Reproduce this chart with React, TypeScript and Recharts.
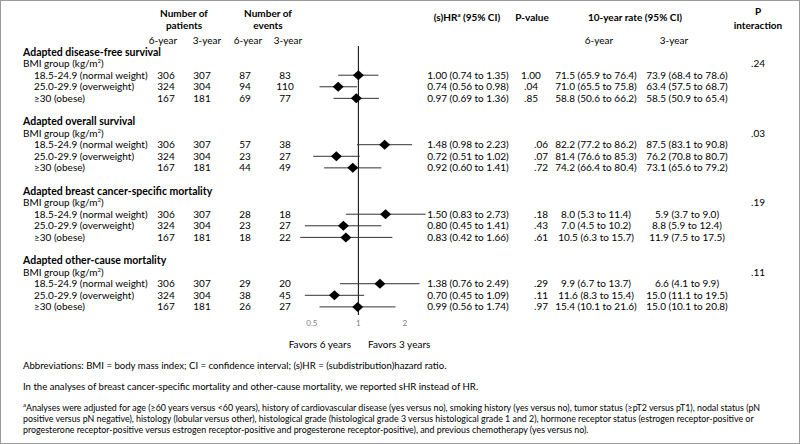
import React from 'react';
import { ScatterChart, Scatter, XAxis, YAxis, ErrorBar, ReferenceLine } from 'recharts';

const outcomes = [
  'Adapted disease-free survival',
  'Adapted overall survival',
  'Adapted breast cancer-specific mortality',
  'Adapted other-cause mortality',
];
const bmiGroups = ['18.5-24.9 (normal weight)', '25.0-29.9 (overweight)', '≥30 (obese)'];
const patients6 = [306, 324, 167];
const patients3 = [307, 304, 181];
const events6 = [[87, 94, 69], [57, 23, 44], [28, 23, 18], [29, 38, 26]];
const events3 = [[83, 110, 77], [38, 27, 49], [18, 27, 22], [20, 45, 27]];
const hr = [[1.0, 0.74, 0.97], [1.48, 0.72, 0.92], [1.5, 0.8, 0.83], [1.38, 0.7, 0.99]];
const hrLow = [[0.74, 0.56, 0.69], [0.98, 0.51, 0.6], [0.83, 0.45, 0.42], [0.76, 0.45, 0.56]];
const hrHigh = [[1.35, 0.98, 1.36], [2.23, 1.02, 1.41], [2.73, 1.41, 1.66], [2.49, 1.09, 1.74]];
const pValues = [['1.00', '.04', '.85'], ['.06', '.07', '.72'], ['.18', '.43', '.61'], ['.29', '.11', '.97']];
const rate6 = [
  ['71.5 (65.9 to 76.4)', '71.0 (65.5 to 75.8)', '58.8 (50.6 to 66.2)'],
  ['82.2 (77.2 to 86.2)', '81.4 (76.6 to 85.3)', '74.2 (66.4 to 80.4)'],
  ['8.0 (5.3 to 11.4)', '7.0 (4.5 to 10.2)', '10.5 (6.3 to 15.7)'],
  ['9.9 (6.7 to 13.7)', '11.6 (8.3 to 15.4)', '15.4 (10.1 to 21.6)'],
];
const rate3 = [
  ['73.9 (68.4 to 78.6)', '63.4 (57.5 to 68.7)', '58.5 (50.9 to 65.4)'],
  ['87.5 (83.1 to 90.8)', '76.2 (70.8 to 80.7)', '73.1 (65.6 to 79.2)'],
  ['5.9 (3.7 to 9.0)', '8.8 (5.9 to 12.4)', '11.9 (7.5 to 17.5)'],
  ['6.6 (4.1 to 9.9)', '15.0 (11.1 to 19.5)', '15.0 (10.1 to 20.8)'],
];
const pInteraction = ['.24', '.03', '.19', '.11'];
const hrTicks = [0.5, 1, 2];

const footLines = [
  'Analyses were adjusted for age (≥60 years versus <60 years), history of cardiovascular disease (yes versus no), smoking history (yes versus no), tumor status (≥pT2 versus pT1), nodal status (pN',
  'positive versus pN negative), histology (lobular versus other), histological grade (histological grade 3 versus histological grade 1 and 2), hormone receptor status (estrogen receptor-positive or',
  'progesterone receptor-positive versus estrogen receptor-positive and progesterone receptor-positive), and previous chemotherapy (yes versus no).',
];

// one row of the table per index: title, BMI group, 3 groups, blank
const rowY = (i: number) => 51 + 11.59 * i;

const points = outcomes.flatMap((_, b) =>
  bmiGroups.map((_, k) => ({
    row: b * 6 + 2 + k,
    hr: hr[b][k],
    err: [hr[b][k] - hrLow[b][k], hrHigh[b][k] - hr[b][k]],
  }))
);

const FONT = 'Lato, "Liberation Sans", sans-serif';
const supStyle: React.CSSProperties = { fontSize: 6, verticalAlign: 'top', lineHeight: '8px', position: 'relative', top: -1 };

const T = ({ x, y, a = 'left', b = false, s = 10, c = '#000', children }: any) => (
  <div
    style={{
      position: 'absolute',
      left: x,
      top: y - 5.5,
      height: 11,
      lineHeight: '11px',
      fontSize: s,
      fontWeight: b ? 700 : 400,
      color: c,
      whiteSpace: 'nowrap',
      transform: a === 'center' ? 'translateX(-50%)' : a === 'right' ? 'translateX(-100%)' : undefined,
    }}
  >
    {children}
  </div>
);

const Diamond = (p: any) => {
  const { cx, cy } = p;
  return <polygon points={`${cx},${cy - 5} ${cx + 5.5},${cy} ${cx},${cy + 5} ${cx - 5.5},${cy}`} fill="#000" />;
};

const fmt = (v: number) => v.toFixed(2);

export default function App() {
  return (
    <div
      style={{
        position: 'absolute',
        left: 0,
        top: 0,
        width: 800,
        height: 444,
        boxSizing: 'border-box',
        border: '1px solid #9a9a9a',
        background: '#fff',
        fontFamily: FONT,
        overflow: 'hidden',
      }}
    >
      {/* column headers */}
      <T x={183} y={12} a="center" b>Number of</T>
      <T x={183} y={24} a="center" b>patients</T>
      <T x={267} y={12} a="center" b>Number of</T>
      <T x={267} y={24} a="center" b>events</T>
      <T x={162} y={39} a="center">6-year</T>
      <T x={206} y={39} a="center">3-year</T>
      <T x={247} y={39} a="center">6-year</T>
      <T x={287} y={39} a="center">3-year</T>
      <T x={466} y={16} a="center" b>
        (s)HR<span style={supStyle}>a</span> (95% CI)
      </T>
      <T x={531} y={16} a="center" b>P-value</T>
      <T x={634} y={16} a="center" b>10-year rate (95% CI)</T>
      <T x={757} y={10} a="center" b>P</T>
      <T x={757} y={24} a="center" b>interaction</T>
      <T x={598} y={39} a="center">6-year</T>
      <T x={673} y={39} a="center">3-year</T>

      {outcomes.map((o, b) => (
        <React.Fragment key={o}>
          <T x={22} y={rowY(b * 6)} b s={10.5}>{o}</T>
          <T x={22} y={rowY(b * 6 + 1)}>
            BMI group (kg/m<span style={supStyle}>2</span>)
          </T>
          <T x={757} y={rowY(b * 6 + 1)} a="center">{pInteraction[b]}</T>
          {bmiGroups.map((g, k) => {
            const y = rowY(b * 6 + 2 + k);
            return (
              <React.Fragment key={g}>
                <T x={33} y={y}>{g}</T>
                <T x={165} y={y} a="center">{patients6[k]}</T>
                <T x={201} y={y} a="center">{patients3[k]}</T>
                <T x={244} y={y} a="center">{events6[b][k]}</T>
                <T x={284} y={y} a="center">{events3[b][k]}</T>
                <T x={467} y={y} a="center">
                  {`${fmt(hr[b][k])} (${fmt(hrLow[b][k])} to ${fmt(hrHigh[b][k])})`}
                </T>
                <T x={b === 0 ? 530 : 540} y={y} a="center">{pValues[b][k]}</T>
                <T x={595} y={y} a="center">{rate6[b][k]}</T>
                <T x={686} y={y} a="center">{rate3[b][k]}</T>
              </React.Fragment>
            );
          })}
        </React.Fragment>
      ))}

      <div style={{ position: 'absolute', left: 286.5, top: 45 }}>
        <ScatterChart width={144} height={289} margin={{ top: 0, right: 0, bottom: 0, left: 0 }}>
          <XAxis
            dataKey="hr"
            type="number"
            scale="log"
            domain={[0.35, 3]}
            allowDataOverflow
            ticks={hrTicks}
            axisLine={false}
            tickLine={false}
            tickSize={3}
            tickMargin={2}
            height={20}
            tick={{ fontSize: 8, fill: '#7f7f7f', fontFamily: FONT }}
            interval={0}
          />
          <YAxis dataKey="row" type="number" domain={[-0.52, 22.7]} reversed hide allowDataOverflow />
          <ReferenceLine x={1} stroke="#000" strokeWidth={1} />
          <Scatter data={points} shape={Diamond} isAnimationActive={false}>
            <ErrorBar dataKey="err" direction="x" width={0} stroke="#333" strokeWidth={1} />
          </Scatter>
        </ScatterChart>
      </div>

      <T x={350} y={343} a="right">Favors 6 years</T>
      <T x={367} y={343}>Favors 3 years</T>

      <T x={22} y={364} s={9.6}>
        Abbreviations: BMI = body mass index; CI = confidence interval; (s)HR = (subdistribution)hazard ratio.
      </T>
      <T x={22} y={385} s={9.6}>
        In the analyses of breast cancer-specific mortality and other-cause mortality, we reported sHR instead of HR.
      </T>
      {footLines.map((l, i) => (
        <T key={i} x={22} y={406 + 11 * i} s={8.85}>
          {i === 0 ? <span style={supStyle}>a</span> : null}
          {l}
        </T>
      ))}
    </div>
  );
}
